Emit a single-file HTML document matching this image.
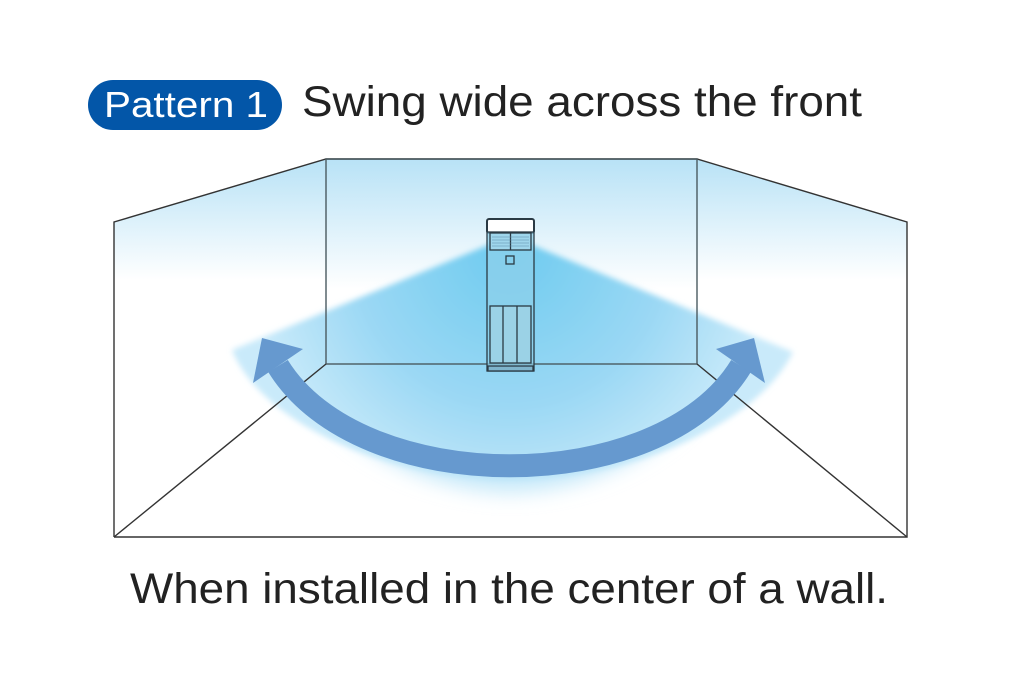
<!DOCTYPE html>
<html><head><meta charset="utf-8"><style>
body{margin:0;background:#fff;}
svg{display:block}
</style></head><body>
<svg width="1024" height="700" viewBox="0 0 1024 700" xmlns="http://www.w3.org/2000/svg">
<defs>
<linearGradient id="wall" x1="0" y1="0" x2="0" y2="1" gradientUnits="objectBoundingBox">
<stop offset="0" stop-color="#b8e2f6"/><stop offset="1" stop-color="#ffffff"/>
</linearGradient>
<radialGradient id="glow" cx="510" cy="250" r="260" gradientUnits="userSpaceOnUse">
<stop offset="0" stop-color="#6ecbf0"/><stop offset="0.6" stop-color="#9bd8f4"/><stop offset="1" stop-color="#c9eafa"/>
</radialGradient>
<filter id="blur" x="-20%" y="-20%" width="140%" height="140%"><feGaussianBlur stdDeviation="10"/></filter>
<filter id="blur2"><feGaussianBlur stdDeviation="3"/></filter>
</defs>
<polygon points="114,222 326,159 326,280 114,280" fill="url(#wall)"/>
<polygon points="697,159 907,222 907,280 697,280" fill="url(#wall)"/>
<rect x="326" y="159" width="371" height="130" fill="url(#wall)"/>
<!-- floor glow -->
<path d="M300,370 C330,440 420,490 510,492 C600,490 690,440 720,370 Z" fill="#c4e8f9" filter="url(#blur)"/>
<path d="M510,236 L232,350 C260,420 380,478 510,480 C640,478 760,420 793,352 Z" fill="url(#glow)" filter="url(#blur2)"/>
<g fill="none" stroke="#333" stroke-width="1.4">
<polyline points="114,537 114,222 326,159 697,159 907,222 907,537 114,537"/>
<rect x="326" y="159" width="371" height="205" stroke="#4a5a60"/>
<line x1="326" y1="364" x2="114" y2="537"/>
<line x1="697" y1="364" x2="907" y2="537"/>
</g>
<g stroke="#2a3a44" stroke-width="1.3">
<rect x="487" y="219" width="47" height="14" rx="2" fill="#fff" stroke-width="2"/>
<rect x="487" y="232" width="47" height="139" fill="#8fd0ea" fill-opacity="0.7"/>
<rect x="490" y="233" width="41" height="17" fill="#9fd6ec"/>
<line x1="510.5" y1="233" x2="510.5" y2="250"/>
<rect x="506" y="256" width="8" height="8" fill="none"/>
<rect x="490" y="306" width="41" height="57" fill="#9bd2e6"/>
<line x1="503" y1="306" x2="503" y2="363"/><line x1="517" y1="306" x2="517" y2="363"/>
<rect x="488" y="366" width="45" height="5" fill="#7fb4cc"/>
</g>
<g stroke="#5a8aa8" stroke-width="0.6">
<line x1="492" y1="237" x2="529" y2="237"/><line x1="492" y1="240" x2="529" y2="240"/><line x1="492" y1="243" x2="529" y2="243"/><line x1="492" y1="246" x2="529" y2="246"/>
</g>
<path d="M278,366 C360,499 660,499 741,366" fill="none" stroke="#6699cf" stroke-width="23"/>
<polygon points="262,338 253,383 303,349" fill="#6699cf"/>
<polygon points="754,338 716,349 765,383" fill="#6699cf"/>
<rect x="88" y="80" width="194" height="50" rx="25" fill="#0356a8"/>
<text x="104" y="117" textLength="164" lengthAdjust="spacingAndGlyphs" font-family="Liberation Sans, sans-serif" font-size="36" fill="#fff">Pattern 1</text>
<text x="302" y="116" textLength="560" lengthAdjust="spacingAndGlyphs" font-family="Liberation Sans, sans-serif" font-size="43" fill="#222">Swing wide across the front</text>
<text x="130" y="603" textLength="758" lengthAdjust="spacingAndGlyphs" font-family="Liberation Sans, sans-serif" font-size="43" fill="#222">When installed in the center of a wall.</text>
</svg>
</body></html>
